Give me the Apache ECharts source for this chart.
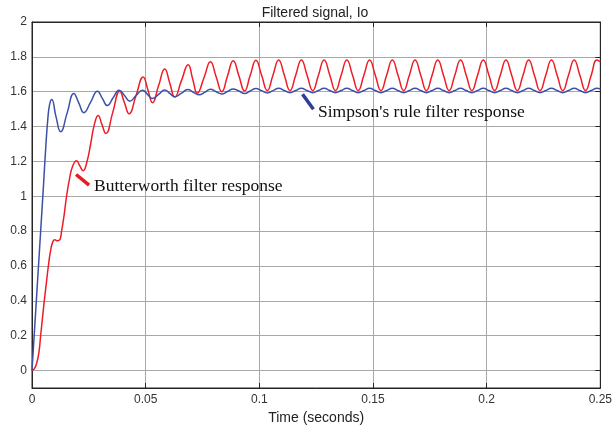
<!DOCTYPE html>
<html>
<head>
<meta charset="utf-8">
<script src="https://cdn.jsdelivr.net/npm/echarts@6/dist/echarts.min.js"></script>
<style>
  html, body { margin: 0; padding: 0; background: #fff; }
  #chart { width: 615px; height: 430px; }
</style>
</head>
<body>
<div id="chart"></div>
<script>
const xTicks = [0, 0.05, 0.1, 0.15, 0.2, 0.25]
const yTicks = [0, 0.2, 0.4, 0.6, 0.8, 1, 1.2, 1.4, 1.6, 1.8, 2]

// transient part
const redT = [0, 0.001, 0.002, 0.003, 0.0038, 0.0046, 0.0054, 0.0063, 0.0072, 0.0082,
  0.0092, 0.0101, 0.0112, 0.0123, 0.013, 0.014, 0.0152, 0.0165, 0.0178, 0.0196,
  0.021, 0.0225, 0.0242, 0.0258, 0.0274, 0.0291, 0.0308, 0.0325, 0.0355, 0.0386,
  0.0406, 0.0427, 0.0458, 0.0489, 0.051, 0.053, 0.0557, 0.0584, 0.0606, 0.0628,
  0.0657, 0.0687, 0.0707, 0.0727, 0.0757, 0.0785]
const redV = [0, 0.01, 0.04, 0.1, 0.2, 0.3, 0.4, 0.5, 0.6, 0.69,
  0.74, 0.75, 0.745, 0.752, 0.8, 0.88, 1.0, 1.1, 1.17, 1.204,
  1.175, 1.147, 1.2, 1.3, 1.41, 1.464, 1.41, 1.36, 1.48, 1.603,
  1.54, 1.474, 1.58, 1.685, 1.61, 1.537, 1.635, 1.73, 1.65, 1.569,
  1.662, 1.755, 1.672, 1.592, 1.682, 1.772]

const blueT = [0, 0.001, 0.002, 0.003, 0.004, 0.005, 0.006, 0.007, 0.0078, 0.0087,
  0.0105, 0.0126, 0.0155, 0.0184, 0.0206, 0.0228, 0.0258, 0.0288, 0.031, 0.0331,
  0.0357, 0.0383, 0.0407, 0.043, 0.0458, 0.0486, 0.0508, 0.053, 0.0557, 0.0584,
  0.0606, 0.0628, 0.0656, 0.0685, 0.071, 0.0735, 0.076, 0.0785]
const blueV = [0, 0.21, 0.42, 0.63, 0.84, 1.05, 1.27, 1.45, 1.53, 1.556,
  1.46, 1.37, 1.48, 1.59, 1.535, 1.48, 1.54, 1.603, 1.56, 1.521,
  1.565, 1.609, 1.578, 1.546, 1.578, 1.609, 1.585, 1.561, 1.585, 1.61,
  1.59, 1.571, 1.59, 1.612, 1.597, 1.582, 1.597, 1.614]

// steady ripple, both signals share the same sample times
const steadyT = [0.081, 0.0835, 0.086, 0.0885, 0.091, 0.0935, 0.096, 0.0985,
  0.101, 0.1035, 0.106, 0.1085, 0.111, 0.1135, 0.116, 0.1185,
  0.121, 0.1235, 0.126, 0.1285, 0.131, 0.1335, 0.136, 0.1385,
  0.141, 0.1435, 0.146, 0.1485, 0.151, 0.1535, 0.156, 0.1585,
  0.161, 0.1635, 0.166, 0.1685, 0.171, 0.1735, 0.176, 0.1785,
  0.181, 0.1835, 0.186, 0.1885, 0.191, 0.1935, 0.196, 0.1985,
  0.201, 0.2035, 0.206, 0.2085, 0.211, 0.2135, 0.216, 0.2185,
  0.221, 0.2235, 0.226, 0.2285, 0.231, 0.2335, 0.236, 0.2385,
  0.241, 0.2435, 0.246, 0.2485, 0.25]
const redSteady = [1.686, 1.6, 1.69, 1.778, 1.692, 1.605, 1.694, 1.781,
  1.695, 1.607, 1.695, 1.782, 1.695, 1.607, 1.695, 1.782,
  1.695, 1.607, 1.695, 1.782, 1.695, 1.607, 1.695, 1.782,
  1.695, 1.607, 1.695, 1.782, 1.695, 1.607, 1.695, 1.782,
  1.695, 1.607, 1.695, 1.782, 1.695, 1.607, 1.695, 1.782,
  1.695, 1.607, 1.695, 1.782, 1.695, 1.607, 1.695, 1.782,
  1.695, 1.607, 1.695, 1.782, 1.695, 1.607, 1.695, 1.782,
  1.695, 1.607, 1.695, 1.782, 1.695, 1.607, 1.695, 1.782,
  1.695, 1.607, 1.695, 1.782, 1.772]
const blueSteady = [1.6, 1.587, 1.601, 1.616, 1.604, 1.59, 1.604, 1.618,
  1.606, 1.593, 1.606, 1.62, 1.607, 1.594, 1.607, 1.62,
  1.607, 1.594, 1.607, 1.62, 1.607, 1.594, 1.607, 1.62,
  1.607, 1.594, 1.607, 1.62, 1.607, 1.594, 1.607, 1.62,
  1.607, 1.594, 1.607, 1.62, 1.607, 1.594, 1.607, 1.62,
  1.607, 1.594, 1.607, 1.62, 1.607, 1.594, 1.607, 1.62,
  1.607, 1.594, 1.607, 1.62, 1.607, 1.594, 1.607, 1.62,
  1.607, 1.594, 1.607, 1.62, 1.607, 1.594, 1.607, 1.62,
  1.607, 1.594, 1.607, 1.62, 1.616]

const redLabel = 'Butterworth filter response'
const blueLabel = "Simpson's rule filter response"
// annotation pointers [start, end] and text anchors, in data units
const redPointer = [[0.0194, 1.125], [0.0251, 1.064]]
const bluePointer = [[0.1190, 1.585], [0.1238, 1.499]]
const redTextAt = [0.0273, 1.058]
const blueTextAt = [0.1258, 1.482]

const zip = (t, v) => t.map((x, i) => [x, v[i]])
const redData = zip(redT, redV).concat(zip(steadyT, redSteady))
const blueData = zip(blueT, blueV).concat(zip(steadyT, blueSteady))

const sans = 'Liberation Sans, Arial, sans-serif'
const serif = 'Liberation Serif, Times New Roman, serif'
const frame = '#262626'

const chart = echarts.init(document.getElementById('chart'))

const pointer = (pts, color) => ({
  silent: true,
  symbol: 'none',
  label: { show: false },
  lineStyle: { color, width: 3.5, type: 'solid' },
  data: [[{ coord: pts[0] }, { coord: pts[1] }]]
})
const note = (at, text) => ({
  silent: true,
  symbol: 'circle',
  symbolSize: 0,
  label: {
    show: true, position: 'right', distance: 0, formatter: text,
    fontFamily: serif, fontSize: 17.5, color: '#111'
  },
  data: [{ coord: at }]
})

chart.setOption({
  animation: false,
  backgroundColor: '#fff',
  title: {
    text: 'Filtered signal, Io',
    left: 310, top: 1, textAlign: 'center',
    textStyle: { fontFamily: sans, fontSize: 14, fontWeight: 'normal', color: '#222' }
  },
  grid: { left: 32, right: 14, top: 22, bottom: 40, show: true, borderColor: frame, borderWidth: 1 },
  xAxis: [{
    type: 'value', min: 0, max: 0.25, interval: 0.05,
    name: 'Time (seconds)', nameLocation: 'middle', nameGap: 23,
    nameTextStyle: { fontFamily: sans, fontSize: 14, color: '#222' },
    axisLine: { show: true, onZero: false, lineStyle: { color: frame } },
    axisTick: { inside: true, length: 5, lineStyle: { color: frame } },
    axisLabel: { fontFamily: sans, fontSize: 12, color: '#333', margin: 6 },
    splitLine: { show: true, lineStyle: { color: '#a8a8a8', width: 1 } }
  }, {
    type: 'value', min: 0, max: 0.25, interval: 0.05, position: 'top',
    axisLine: { show: true, onZero: false, lineStyle: { color: frame } },
    axisTick: { inside: true, length: 5, lineStyle: { color: frame } },
    axisLabel: { show: false }, splitLine: { show: false }
  }],
  yAxis: [{
    type: 'value', min: -0.1, max: 2,
    axisLine: { show: true, onZero: false, lineStyle: { color: frame } },
    axisTick: { show: false, customValues: yTicks },
    axisLabel: { customValues: yTicks, fontFamily: sans, fontSize: 12, color: '#333', margin: 5 },
    splitLine: { show: true, lineStyle: { color: '#a8a8a8', width: 1 } }
  }, {
    type: 'value', min: -0.1, max: 2, position: 'right',
    axisLine: { show: true, onZero: false, lineStyle: { color: frame } },
    axisTick: { inside: true, length: 5, customValues: yTicks, lineStyle: { color: frame } },
    axisLabel: { show: false }, splitLine: { show: false }
  }],
  series: [{
    name: redLabel, type: 'line', data: redData, smooth: 0.5, showSymbol: false,
    lineStyle: { color: '#ee1c25', width: 1.5 }, itemStyle: { color: '#ee1c25' },
    markLine: pointer(redPointer, '#e41b23'),
    markPoint: note(redTextAt, redLabel),
    z: 3
  }, {
    name: blueLabel, type: 'line', data: blueData, smooth: 0.5, showSymbol: false,
    lineStyle: { color: '#3c50a8', width: 1.5 }, itemStyle: { color: '#3c50a8' },
    markLine: pointer(bluePointer, '#2f3f96'),
    markPoint: note(blueTextAt, blueLabel),
    z: 4
  }]
})
</script>
</body>
</html>
